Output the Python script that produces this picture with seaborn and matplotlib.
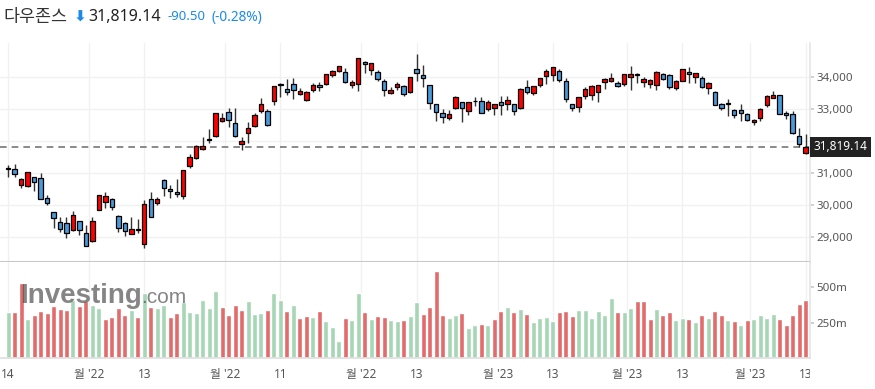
import numpy as np
import pandas as pd
import matplotlib
matplotlib.use("Agg")
import matplotlib.pyplot as plt
import seaborn as sns
from matplotlib.transforms import Bbox, TransformedBbox

# 다우존스 일봉 (2022-09-14 ~ 2023-03-13), 값은 그림에서 읽음
prev_close = 31104.97
opens = [31160, 31120, 30610, 30590, 30870, 30830, 30220, 29770, 29460, 29430,
         29220, 29490, 29115, 28870, 29850, 30080, 30200, 29670, 29430, 29090,
         29250, 28780, 30180, 30050, 30770, 30490, 30400, 30290, 31230, 31460,
         31745, 32060, 32170, 32640, 32900, 32550, 31900, 32240, 32470, 32940,
         32950, 33250, 33790, 33620, 33770, 33460, 33280, 33590, 33745, 33770,
         34060, 34180, 34150, 33760, 33790, 34480, 34230, 34150, 33890, 33500,
         33680, 33710, 33520, 34260, 34070, 33760, 33150, 32880, 32710, 33020,
         33210, 32950, 33260, 33260, 32990, 33020, 33210, 33150, 33150, 33040,
         33700, 33500, 33740, 34030, 34060, 34200, 33890, 33150, 33060, 33420,
         33430, 33520, 33840, 33860, 33820, 33770, 33990, 34100, 33840, 33790,
         33750, 34090, 34060, 33650, 33880, 34150, 34010, 33960, 33650, 33520,
         33150, 33200, 32970, 32970, 32840, 32600, 32710, 33110, 33340, 33430,
         32880, 32830, 32160, 31610]
highs = [31250, 31280, 30830, 31040, 30880, 31010, 30310, 29780, 29620, 29640,
         29810, 29490, 29380, 29640, 30320, 30420, 30230, 29680, 29480, 29610,
         29550, 30160, 30420, 30260, 30820, 30640, 30800, 31090, 31580, 31880,
         32140, 32370, 32870, 32860, 33020, 33020, 32130, 32580, 32860, 33340,
         33000, 33720, 33810, 33930, 33960, 33650, 33560, 33800, 33830, 34100,
         34220, 34350, 34270, 33900, 34590, 34500, 34430, 34230, 33950, 33700,
         33830, 33760, 34010, 34710, 34370, 33760, 33170, 33000, 32970, 33400,
         33230, 33230, 33390, 33390, 33280, 33160, 33400, 33420, 33150, 33670,
         33910, 33720, 33980, 34240, 34310, 34240, 33960, 33170, 33380, 33700,
         33760, 33760, 33960, 34110, 33870, 34090, 34330, 34120, 34000, 33950,
         34200, 34120, 34100, 33900, 34250, 34300, 34130, 34020, 33850, 33560,
         33200, 33300, 32990, 33160, 32860, 32680, 33030, 33430, 33570, 33440,
         32950, 32940, 32400, 32220]
lows = [30890, 30890, 30540, 30570, 30450, 30180, 30000, 29270, 29160, 28980,
        29190, 29060, 28720, 28850, 29840, 29920, 29850, 29150, 29030, 29080,
        29140, 28660, 29630, 30000, 30290, 30230, 30250, 30200, 31160, 31430,
        31720, 31950, 32120, 32590, 32450, 32140, 31730, 31930, 32450, 32890,
        32480, 33120, 33390, 33450, 33320, 33430, 33250, 33520, 33560, 33740,
        34000, 34160, 33800, 33650, 33560, 34110, 34050, 33870, 33420, 33480,
        33590, 33420, 33510, 33880, 33700, 33000, 32610, 32560, 32670, 33010,
        32580, 32810, 33090, 32870, 32950, 32820, 32810, 32960, 32810, 33000,
        33470, 33440, 33700, 33780, 33880, 33850, 33230, 32950, 32920, 33300,
        33280, 33230, 33610, 33830, 33680, 33710, 33580, 33800, 33700, 33650,
        33600, 33900, 33620, 33600, 33860, 33800, 33800, 33650, 33480, 33110,
        32960, 32790, 32730, 32640, 32620, 32500, 32620, 33050, 33330, 32840,
        32700, 32230, 31800, 31590]
closes = [31135, 30962, 30822, 31020, 30706, 30184, 30077, 29590, 29261, 29135,
          29684, 29226, 28726, 29491, 30316, 30274, 29927, 29297, 29203, 29239,
          29211, 30039, 29635, 30186, 30524, 30424, 30334, 31083, 31500, 31837,
          31839, 32033, 32862, 32733, 32653, 32148, 32001, 32403, 32827, 33161,
          32514, 33715, 33748, 33537, 33593, 33554, 33546, 33746, 33700, 34098,
          34194, 34347, 33849, 33853, 34590, 34395, 34430, 33947, 33596, 33598,
          33781, 33476, 34005, 34109, 33966, 33202, 32920, 32758, 32850, 33376,
          33027, 33204, 33242, 32876, 33221, 33147, 33136, 33270, 32930, 33631,
          33518, 33704, 33973, 34190, 34303, 33911, 33297, 33045, 33375, 33630,
          33734, 33744, 33949, 33978, 33717, 34086, 34093, 34054, 33926, 33891,
          34157, 33949, 33700, 33869, 34246, 34089, 34128, 33697, 33827, 33130,
          33045, 33154, 32817, 32889, 32657, 32662, 33004, 33391, 33431, 32856,
          32798, 32255, 31909.64, 31819.14]
volumes = [326, 326, 533, 276, 305, 333, 319, 369, 348, 340, 412, 369, 405, 376,
           355, 276, 290, 355, 305, 340, 290, 457, 362, 355, 376, 290, 319, 398,
           326, 319, 412, 355, 476, 362, 305, 376, 340, 405, 312, 319, 340, 462,
           412, 333, 376, 283, 298, 290, 333, 262, 219, 119, 283, 269, 462, 326,
           276, 298, 290, 269, 262, 269, 298, 398, 312, 362, 612, 302, 283, 305,
           321, 212, 233, 243, 233, 276, 333, 362, 326, 348, 314, 255, 283, 290,
           262, 326, 333, 298, 340, 340, 283, 333, 305, 426, 326, 326, 355, 405,
           405, 276, 348, 305, 326, 269, 283, 276, 255, 305, 283, 333, 305, 269,
           262, 233, 269, 276, 305, 283, 312, 276, 233, 305, 383, 412]

tick_pos = [0, 12.5, 21, 33.5, 42, 54.5, 63, 75.5, 84, 95.5, 104, 114.5, 123]
tick_labels = ["14", "월 '22", "13", "월 '22", "11", "월 '22", "13",
               "월 '23", "13", "월 '23", "13", "월 '23", "13"]
price_ticks = [29000, 30000, 31000, 32000, 33000, 34000]
vol_ticks = [250, 500]
vol_tick_labels = ["250m", "500m"]

RED = "#ff0000"
BLUE = "#4a9ad8"
VRED = "#e26b6b"
VGREEN = "#a6d6b5"
GRID = "#f1f1f1"
CHG = "#1a8be6"

sns.set_theme(style="white")
plt.rcParams["font.family"] = ["Noto Sans", "Noto Sans CJK KR", "DejaVu Sans"]

o = np.array(opens, float)
h = np.array(highs, float)
l = np.array(lows, float)
c = np.array(closes, float)
idx = np.arange(len(c))
up = c >= o
prev = np.r_[prev_close, c[:-1]]
vdf = pd.DataFrame({"i": idx, "vol": volumes,
                    "dir": np.where(c >= prev, "up", "down")})

W, H = 875, 389
fig = plt.figure(figsize=(W / 100, H / 100), dpi=100)


def box(left, top, right, bottom):
    return [left / W, 1 - bottom / H, (right - left) / W, (bottom - top) / H]


ax = fig.add_axes(box(0, 43, 809.5, 262))
axv = fig.add_axes(box(0, 262, 809.5, 358), sharex=ax)

# 캔들
ax.vlines(idx, l, h, color="#333333", lw=1, zorder=2)
ax.bar(idx, np.maximum(np.abs(c - o), 10), bottom=np.minimum(o, c), width=0.68,
       color=np.where(up, RED, BLUE), edgecolor="black", linewidth=0.9, zorder=3)
ax.axhline(c[-1], color="#777777", ls=(0, (4, 3)), lw=1.2, zorder=1.5)

# 거래량
sns.barplot(data=vdf, x="i", y="vol", hue="dir", palette={"up": VGREEN, "down": VRED},
            dodge=False, width=0.77, saturation=1, errorbar=None, legend=False,
            native_scale=True, ax=axv)

ax.set_xlim(-1.255, 123.6)
ax.set_ylim(28219, 35062)
axv.set_ylim(0, 679)
axv.set_xlabel("")
axv.set_ylabel("")

for a in (ax, axv):
    a.yaxis.tick_right()
    a.set_xticks(tick_pos)
    a.grid(axis="x", color=GRID, lw=1)
    a.set_axisbelow(True)
    for s in ("top", "left"):
        a.spines[s].set_visible(False)
    a.spines["right"].set_color("#e6e6e6")
    a.tick_params(axis="y", length=3, color="#cccccc", pad=2, labelsize=8.3,
                  labelcolor="#555555")

ax.grid(axis="y", color=GRID, lw=1)
ax.set_yticks(price_ticks)
# 32,000 라벨은 현재가 상자에 가려짐
ax.set_yticklabels(["" if v == 32000 else f"{v:,}" for v in price_ticks])
ax.spines["bottom"].set_color("#c8c8c8")
ax.spines["bottom"].set_linewidth(1.5)
ax.tick_params(axis="x", labelbottom=False, length=0)

axv.set_yticks(vol_ticks)
axv.set_yticklabels(vol_tick_labels)
axv.spines["bottom"].set_color("#e0e0e0")
axv.set_xticklabels(tick_labels)
axv.tick_params(axis="x", length=4, color="#dddddd", pad=3, labelsize=8.5,
                labelcolor="#555555")
clip = TransformedBbox(Bbox([[0, 0], [809.5 / W, 1]]), fig.transFigure)
for lbl in axv.get_xticklabels():
    lbl.set_clip_box(clip)
    lbl.set_clip_on(True)

# 현재가 라벨
ax.text(1 + 4 / 809.5, c[-1], f"{c[-1]:,.2f}", transform=ax.get_yaxis_transform(),
        ha="left", va="center", color="white", fontsize=8.5, fontweight="bold",
        bbox=dict(boxstyle="square,pad=0.28", fc="#222222", ec="none"),
        zorder=10, clip_on=False)

# 제목
ty = 1 - 17 / H
chg = c[-1] - c[-2]
fig.text(3 / W, ty, "다우존스", ha="left", va="center", fontsize=12.5,
         color="#333333", family=["Noto Sans CJK KR", "DejaVu Sans"])
fig.text(74 / W, ty, "⬇", ha="left", va="center", fontsize=11, color=CHG,
         fontweight="bold", family=["DejaVu Sans"])
fig.text(88 / W, ty, f"{c[-1]:,.2f}", ha="left", va="center", fontsize=11.5,
         fontweight="bold", color="#222222")
fig.text(168 / W, ty, f"{chg:,.2f}", ha="left", va="center", fontsize=9.5,
         fontweight="semibold", color=CHG)
fig.text(211 / W, ty, f"({chg / c[-2] * 100:.2f}%)", ha="left", va="center",
         fontsize=9.8, fontweight="semibold", color=CHG)

# 워터마크
fig.text(20 / W, 1 - 303 / H, "Investing", ha="left", va="baseline", fontsize=20,
         fontweight="bold", color="#444444", alpha=0.65, family="Liberation Sans")
fig.text(141 / W, 1 - 303 / H, ".com", ha="left", va="baseline", fontsize=15,
         color="#444444", alpha=0.65, family="Liberation Sans")

fig.savefig("out.png", dpi=100)
